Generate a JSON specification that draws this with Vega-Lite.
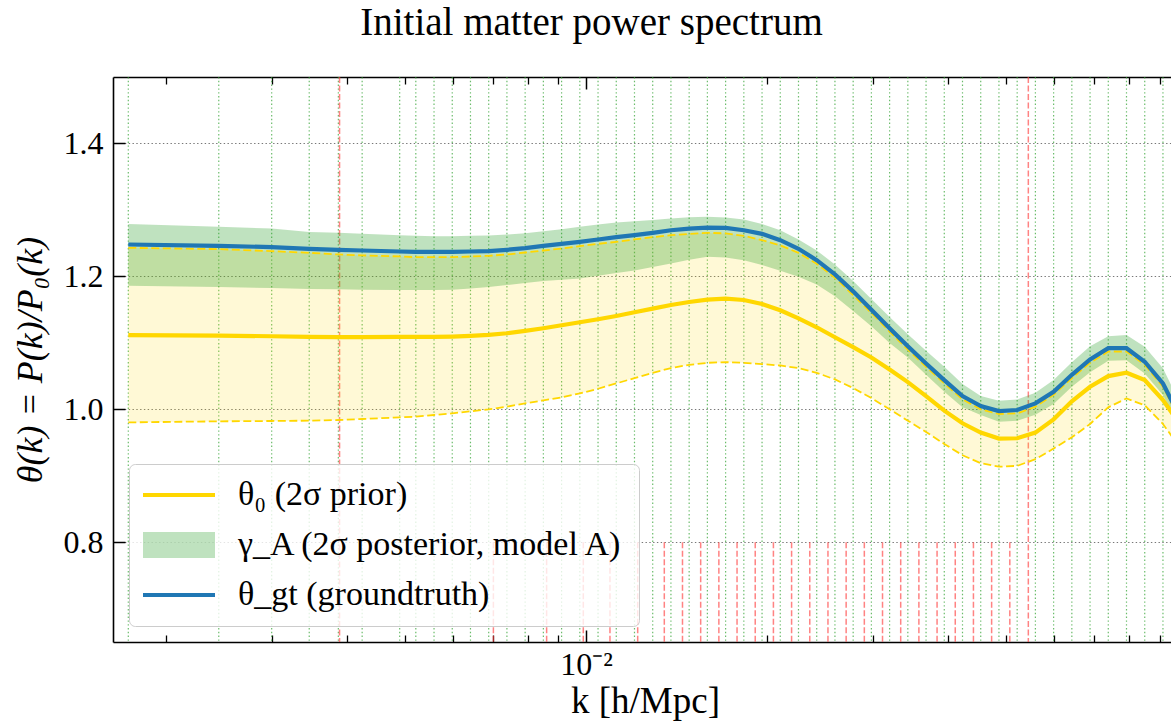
{
  "$schema": "https://vega.github.io/schema/vega-lite/v6.json",
  "width": 1058,
  "height": 565,
  "autosize": {"type": "none"},
  "padding": {"left": 113, "top": 77, "right": 0, "bottom": 86},
  "title": {"text": "Initial matter power spectrum", "font": "Liberation Serif", "fontSize": 39, "fontWeight": "normal", "color": "black", "anchor": "middle", "frame": "bounds", "baseline": "alphabetic", "offset": 2},
  "datasets": {
    "curves": [
      {"k": 0.0017317, "gt": 1.248, "mean": 1.1117, "lo": 0.9804, "hi": 1.243, "plo": 1.186, "phi": 1.279},
      {"k": 0.002449, "gt": 1.246, "mean": 1.111, "lo": 0.982, "hi": 1.241, "plo": 1.184, "phi": 1.2746},
      {"k": 0.0029994, "gt": 1.244, "mean": 1.110, "lo": 0.9825, "hi": 1.238, "plo": 1.1825, "phi": 1.272},
      {"k": 0.0034634, "gt": 1.2415, "mean": 1.109, "lo": 0.983, "hi": 1.2355, "plo": 1.181, "phi": 1.267},
      {"k": 0.0038722, "gt": 1.240, "mean": 1.1087, "lo": 0.984, "hi": 1.233, "plo": 1.1805, "phi": 1.2655},
      {"k": 0.0042418, "gt": 1.239, "mean": 1.1087, "lo": 0.9855, "hi": 1.2316, "plo": 1.180, "phi": 1.264},
      {"k": 0.004898, "gt": 1.2375, "mean": 1.109, "lo": 0.988, "hi": 1.230, "plo": 1.1797, "phi": 1.262},
      {"k": 0.00521, "gt": 1.237, "mean": 1.109, "lo": 0.989, "hi": 1.229, "plo": 1.1794, "phi": 1.261},
      {"k": 0.0055867, "gt": 1.237, "mean": 1.109, "lo": 0.9915, "hi": 1.229, "plo": 1.1794, "phi": 1.2606},
      {"k": 0.0059907, "gt": 1.237, "mean": 1.1095, "lo": 0.994, "hi": 1.229, "plo": 1.180, "phi": 1.2605},
      {"k": 0.0064239, "gt": 1.2375, "mean": 1.1105, "lo": 0.997, "hi": 1.230, "plo": 1.182, "phi": 1.261},
      {"k": 0.0068884, "gt": 1.238, "mean": 1.112, "lo": 1.000, "hi": 1.231, "plo": 1.184, "phi": 1.2615},
      {"k": 0.0073865, "gt": 1.240, "mean": 1.1145, "lo": 1.004, "hi": 1.233, "plo": 1.187, "phi": 1.263},
      {"k": 0.0079206, "gt": 1.2425, "mean": 1.118, "lo": 1.009, "hi": 1.236, "plo": 1.190, "phi": 1.265},
      {"k": 0.0084934, "gt": 1.246, "mean": 1.122, "lo": 1.0135, "hi": 1.239, "plo": 1.193, "phi": 1.268},
      {"k": 0.0091076, "gt": 1.249, "mean": 1.1265, "lo": 1.018, "hi": 1.242, "plo": 1.195, "phi": 1.271},
      {"k": 0.0097662, "gt": 1.252, "mean": 1.131, "lo": 1.024, "hi": 1.2456, "plo": 1.197, "phi": 1.2746},
      {"k": 0.0104724, "gt": 1.2555, "mean": 1.1355, "lo": 1.031, "hi": 1.249, "plo": 1.201, "phi": 1.278},
      {"k": 0.0112297, "gt": 1.259, "mean": 1.1405, "lo": 1.039, "hi": 1.252, "plo": 1.205, "phi": 1.281},
      {"k": 0.0120417, "gt": 1.262, "mean": 1.146, "lo": 1.047, "hi": 1.2556, "plo": 1.209, "phi": 1.283},
      {"k": 0.0129124, "gt": 1.2655, "mean": 1.1515, "lo": 1.055, "hi": 1.259, "plo": 1.214, "phi": 1.285},
      {"k": 0.0138461, "gt": 1.2695, "mean": 1.157, "lo": 1.062, "hi": 1.262, "plo": 1.2195, "phi": 1.287},
      {"k": 0.0148473, "gt": 1.272, "mean": 1.1615, "lo": 1.067, "hi": 1.264, "plo": 1.225, "phi": 1.289},
      {"k": 0.0159209, "gt": 1.2735, "mean": 1.165, "lo": 1.070, "hi": 1.2656, "plo": 1.2295, "phi": 1.2896},
      {"k": 0.0170722, "gt": 1.273, "mean": 1.1665, "lo": 1.071, "hi": 1.2647, "plo": 1.2286, "phi": 1.2887},
      {"k": 0.0183067, "gt": 1.2695, "mean": 1.1645, "lo": 1.070, "hi": 1.261, "plo": 1.2245, "phi": 1.2857},
      {"k": 0.0196305, "gt": 1.264, "mean": 1.1585, "lo": 1.068, "hi": 1.2546, "plo": 1.217, "phi": 1.2787},
      {"k": 0.02105, "gt": 1.2545, "mean": 1.149, "lo": 1.066, "hi": 1.2466, "plo": 1.2084, "phi": 1.2696},
      {"k": 0.0225721, "gt": 1.2415, "mean": 1.137, "lo": 1.062, "hi": 1.2355, "plo": 1.1994, "phi": 1.2556},
      {"k": 0.0242043, "gt": 1.2245, "mean": 1.1235, "lo": 1.055, "hi": 1.219, "plo": 1.188, "phi": 1.239},
      {"k": 0.0259545, "gt": 1.203, "mean": 1.1085, "lo": 1.045, "hi": 1.198, "plo": 1.170, "phi": 1.218},
      {"k": 0.0278313, "gt": 1.1775, "mean": 1.0935, "lo": 1.032, "hi": 1.172, "plo": 1.148, "phi": 1.193},
      {"k": 0.0298438, "gt": 1.150, "mean": 1.078, "lo": 1.017, "hi": 1.145, "plo": 1.125, "phi": 1.166},
      {"k": 0.0320018, "gt": 1.122, "mean": 1.060, "lo": 1.000, "hi": 1.117, "plo": 1.100, "phi": 1.139},
      {"k": 0.0343158, "gt": 1.095, "mean": 1.041, "lo": 0.983, "hi": 1.090, "plo": 1.078, "phi": 1.113},
      {"k": 0.0367972, "gt": 1.069, "mean": 1.020, "lo": 0.966, "hi": 1.064, "plo": 1.052, "phi": 1.088},
      {"k": 0.039458, "gt": 1.044, "mean": 0.998, "lo": 0.948, "hi": 1.039, "plo": 1.0265, "phi": 1.064},
      {"k": 0.0423112, "gt": 1.020, "mean": 0.979, "lo": 0.931, "hi": 1.015, "plo": 1.003, "phi": 1.038},
      {"k": 0.0453707, "gt": 1.005, "mean": 0.965, "lo": 0.919, "hi": 1.000, "plo": 0.9914, "phi": 1.020},
      {"k": 0.0486515, "gt": 0.9975, "mean": 0.956, "lo": 0.9137, "hi": 0.993, "plo": 0.9814, "phi": 1.013},
      {"k": 0.0521695, "gt": 0.999, "mean": 0.9565, "lo": 0.915, "hi": 0.994, "plo": 0.983, "phi": 1.015},
      {"k": 0.0559419, "gt": 1.009, "mean": 0.965, "lo": 0.925, "hi": 1.004, "plo": 0.992, "phi": 1.025},
      {"k": 0.059987, "gt": 1.0265, "mean": 0.985, "lo": 0.941, "hi": 1.022, "plo": 1.008, "phi": 1.044},
      {"k": 0.0643247, "gt": 1.052, "mean": 1.012, "lo": 0.958, "hi": 1.047, "plo": 1.034, "phi": 1.071},
      {"k": 0.0689759, "gt": 1.075, "mean": 1.034, "lo": 0.978, "hi": 1.070, "plo": 1.056, "phi": 1.095},
      {"k": 0.0739636, "gt": 1.092, "mean": 1.050, "lo": 1.003, "hi": 1.087, "plo": 1.073, "phi": 1.110},
      {"k": 0.079312, "gt": 1.092, "mean": 1.055, "lo": 1.0165, "hi": 1.087, "plo": 1.074, "phi": 1.112},
      {"k": 0.085047, "gt": 1.0716, "mean": 1.044, "lo": 1.006, "hi": 1.067, "plo": 1.054, "phi": 1.094},
      {"k": 0.0911968, "gt": 1.039, "mean": 1.014, "lo": 0.978, "hi": 1.034, "plo": 1.0215, "phi": 1.062},
      {"k": 0.0977937, "gt": 0.985, "mean": 0.975, "lo": 0.94, "hi": 0.98, "plo": 0.965, "phi": 1.005}
    ],
    "gridk": [
      {"k": 0.0017317}, {"k": 0.002449}, {"k": 0.0029994}, {"k": 0.0034634}, {"k": 0.0038722}, {"k": 0.0042418}, {"k": 0.004898},
      {"k": 0.00521}, {"k": 0.0055867}, {"k": 0.0059907}, {"k": 0.0064239}, {"k": 0.0068884}, {"k": 0.0073865}, {"k": 0.0079206},
      {"k": 0.0084934}, {"k": 0.0091076}, {"k": 0.0097662}, {"k": 0.0104724}, {"k": 0.0112297}, {"k": 0.0120417}, {"k": 0.0129124},
      {"k": 0.0138461}, {"k": 0.0148473}, {"k": 0.0159209}, {"k": 0.0170722}, {"k": 0.0183067}, {"k": 0.0196305}, {"k": 0.02105},
      {"k": 0.0225721}, {"k": 0.0242043}, {"k": 0.0259545}, {"k": 0.0278313}, {"k": 0.0298438}, {"k": 0.0320018}, {"k": 0.0343158},
      {"k": 0.0367972}, {"k": 0.039458}, {"k": 0.0423112}, {"k": 0.0453707}, {"k": 0.0486515}, {"k": 0.0521695}, {"k": 0.0559419},
      {"k": 0.059987}, {"k": 0.0643247}, {"k": 0.0689759}, {"k": 0.0739636}, {"k": 0.079312}, {"k": 0.085047}, {"k": 0.0911968}
    ],
    "redfull": [{"k": 0.00389}, {"k": 0.054448}],
    "redshort": [
      {"k": 0.0070135}, {"k": 0.0086003}, {"k": 0.0098971}, {"k": 0.0109622}, {"k": 0.0121906}, {"k": 0.0134988},
      {"k": 0.014473}, {"k": 0.015517}, {"k": 0.016637}, {"k": 0.017837}, {"k": 0.019124}, {"k": 0.020504},
      {"k": 0.021983}, {"k": 0.023569}, {"k": 0.02527}, {"k": 0.027093}, {"k": 0.029048}, {"k": 0.031144},
      {"k": 0.033391}, {"k": 0.0358}, {"k": 0.038383}, {"k": 0.041153}, {"k": 0.044122}, {"k": 0.047306}, {"k": 0.050719}
    ]
  },
  "layer": [
    {
      "data": {"name": "gridk"},
      "mark": {"type": "rule", "color": "#2ca02c", "opacity": 0.7, "strokeWidth": 1.2, "strokeDash": [1.4, 2.4]},
      "encoding": {
        "x": {"field": "k", "type": "quantitative", "scale": {"type": "log", "domain": [0.0016331, 0.094052], "nice": false},
          "axis": {"orient": "bottom", "values": [0.002, 0.003, 0.004, 0.005, 0.006, 0.007, 0.008, 0.009, 0.02, 0.03, 0.04, 0.05, 0.06, 0.07, 0.08, 0.09], "tickSize": -7, "tickWidth": 1.3, "labels": false, "domain": false, "grid": false, "title": null}}
      }
    },
    {
      "data": {"name": "redfull"},
      "mark": {"type": "rule", "color": "#ff4040", "opacity": 0.65, "strokeWidth": 1.5, "strokeDash": [6, 2.5]},
      "encoding": {
        "x": {"field": "k", "type": "quantitative", "scale": {"type": "log", "domain": [0.0016331, 0.094052], "nice": false},
          "axis": {"orient": "top", "values": [0.01], "tickSize": -12, "tickWidth": 1.5, "labels": false, "domain": true, "domainWidth": 1.6, "grid": false, "title": null}}
      }
    },
    {
      "data": {"name": "redshort"},
      "mark": {"type": "rule", "color": "#ff4040", "opacity": 0.65, "strokeWidth": 1.5, "strokeDash": [6, 2.5]},
      "encoding": {
        "x": {"field": "k", "type": "quantitative", "scale": {"type": "log", "domain": [0.0016331, 0.094052], "nice": false},
          "axis": {"orient": "top", "values": [0.002, 0.003, 0.004, 0.005, 0.006, 0.007, 0.008, 0.009, 0.02, 0.03, 0.04, 0.05, 0.06, 0.07, 0.08, 0.09], "tickSize": -7, "tickWidth": 1.3, "labels": false, "domain": false, "grid": false, "title": null}},
        "y": {"datum": 0.8, "type": "quantitative", "scale": {"domain": [0.65, 1.5], "nice": false, "zero": false}, "axis": null},
        "y2": {"datum": 0.65}
      }
    },
    {
      "data": {"name": "curves"},
      "mark": {"type": "area", "color": "#FFD700", "opacity": 0.16, "clip": true},
      "encoding": {
        "x": {"field": "k", "type": "quantitative", "scale": {"type": "log", "domain": [0.0016331, 0.094052], "nice": false},
          "axis": {"orient": "bottom", "values": [0.01], "labelExpr": "'10⁻²'", "tickSize": -12, "tickWidth": 1.5, "domain": true, "domainWidth": 1.6, "grid": false, "labelFontSize": 32, "labelPadding": 19, "title": "k [h/Mpc]", "titleFontSize": 37, "titlePadding": 3, "titleX": 532}},
        "y": {"field": "lo", "type": "quantitative", "scale": {"domain": [0.65, 1.5], "nice": false, "zero": false},
          "axis": {"orient": "left", "values": [0.8, 1.0, 1.2, 1.4], "format": ".1f", "tickSize": -12, "tickWidth": 1.5, "domain": true, "domainWidth": 1.6, "labelFontSize": 32, "labelPadding": 22, "grid": true, "gridColor": "#555555", "gridOpacity": 0.8, "gridDash": [1.4, 2.4], "gridWidth": 1.2, "title": "θ(k) = P(k)/P₀(k)", "titleFontSize": 36, "titleFontStyle": "italic", "titlePadding": 14}},
        "y2": {"field": "hi"}
      }
    },
    {
      "data": {"name": "curves"},
      "mark": {"type": "area", "fillOpacity": 0.3, "clip": true},
      "encoding": {
        "x": {"field": "k", "type": "quantitative", "scale": {"type": "log", "domain": [0.0016331, 0.094052], "nice": false}, "axis": null},
        "y": {"field": "plo", "type": "quantitative", "scale": {"domain": [0.65, 1.5], "nice": false, "zero": false}, "axis": null},
        "y2": {"field": "phi"},
        "color": {"datum": "γ_A (2σ posterior, model A)",
          "scale": {"domain": ["θ₀ (2σ prior)", "γ_A (2σ posterior, model A)", "θ_gt (groundtruth)"], "range": ["#FFD700", "#2ca02c", "#1f77b4"]},
          "legend": {"title": null, "orient": "bottom-left", "offset": 16, "padding": 14, "fillColor": "rgba(255,255,255,0.8)", "strokeColor": "#cccccc", "cornerRadius": 6,
            "labelFont": "Liberation Serif", "labelFontSize": 34, "labelColor": "black", "labelLimit": 800, "labelOffset": 42,
            "symbolSize": 900, "symbolStrokeWidth": 4, "symbolOffset": 19, "rowPadding": 16, "symbolType": "M-2.4,0L2.4,0",
            "encode": {"symbols": {"update": {
              "shape": {"signal": "datum.index === 1 ? 'M-2.4,-0.87L2.4,-0.87L2.4,0.87L-2.4,0.87Z' : 'M-2.4,0L2.4,0'"},
              "stroke": {"signal": "datum.index === 1 ? 'transparent' : (datum.index === 0 ? '#FFD700' : '#1f77b4')"},
              "strokeWidth": {"signal": "datum.index === 1 ? 0 : 4"},
              "opacity": {"value": 1},
              "fillOpacity": {"signal": "datum.index === 1 ? 0.3 : 0"},
              "strokeOpacity": {"signal": "datum.index === 1 ? 0 : 1"}
            }}}
          }
        }
      }
    },
    {
      "data": {"name": "curves"},
      "mark": {"type": "line", "color": "#FFD700", "strokeWidth": 1.8, "strokeDash": [8, 3.5], "clip": true},
      "encoding": {
        "x": {"field": "k", "type": "quantitative", "scale": {"type": "log", "domain": [0.0016331, 0.094052], "nice": false}, "axis": null},
        "y": {"field": "hi", "type": "quantitative", "scale": {"domain": [0.65, 1.5], "nice": false, "zero": false}, "axis": null}
      }
    },
    {
      "data": {"name": "curves"},
      "mark": {"type": "line", "color": "#FFD700", "strokeWidth": 1.8, "strokeDash": [8, 3.5], "clip": true},
      "encoding": {
        "x": {"field": "k", "type": "quantitative", "scale": {"type": "log", "domain": [0.0016331, 0.094052], "nice": false}, "axis": null},
        "y": {"field": "lo", "type": "quantitative", "scale": {"domain": [0.65, 1.5], "nice": false, "zero": false}, "axis": null}
      }
    },
    {
      "data": {"name": "curves"},
      "mark": {"type": "line", "strokeWidth": 4.2, "clip": true},
      "encoding": {
        "x": {"field": "k", "type": "quantitative", "scale": {"type": "log", "domain": [0.0016331, 0.094052], "nice": false}, "axis": null},
        "y": {"field": "mean", "type": "quantitative", "scale": {"domain": [0.65, 1.5], "nice": false, "zero": false}, "axis": null},
        "color": {"datum": "θ₀ (2σ prior)"}
      }
    },
    {
      "data": {"name": "curves"},
      "mark": {"type": "line", "strokeWidth": 4.2, "clip": true},
      "encoding": {
        "x": {"field": "k", "type": "quantitative", "scale": {"type": "log", "domain": [0.0016331, 0.094052], "nice": false}, "axis": null},
        "y": {"field": "gt", "type": "quantitative", "scale": {"domain": [0.65, 1.5], "nice": false, "zero": false}, "axis": null},
        "color": {"datum": "θ_gt (groundtruth)"}
      }
    }
  ],
  "resolve": {"axis": {"x": "independent", "y": "independent"}},
  "config": {
    "font": "Liberation Serif",
    "view": {"stroke": null},
    "axis": {"labelFont": "Liberation Serif", "titleFont": "Liberation Serif", "labelColor": "black", "titleColor": "black", "tickColor": "black", "domainColor": "black", "titleFontWeight": "normal"},
    "legend": {"labelFont": "Liberation Serif"}
  }
}
